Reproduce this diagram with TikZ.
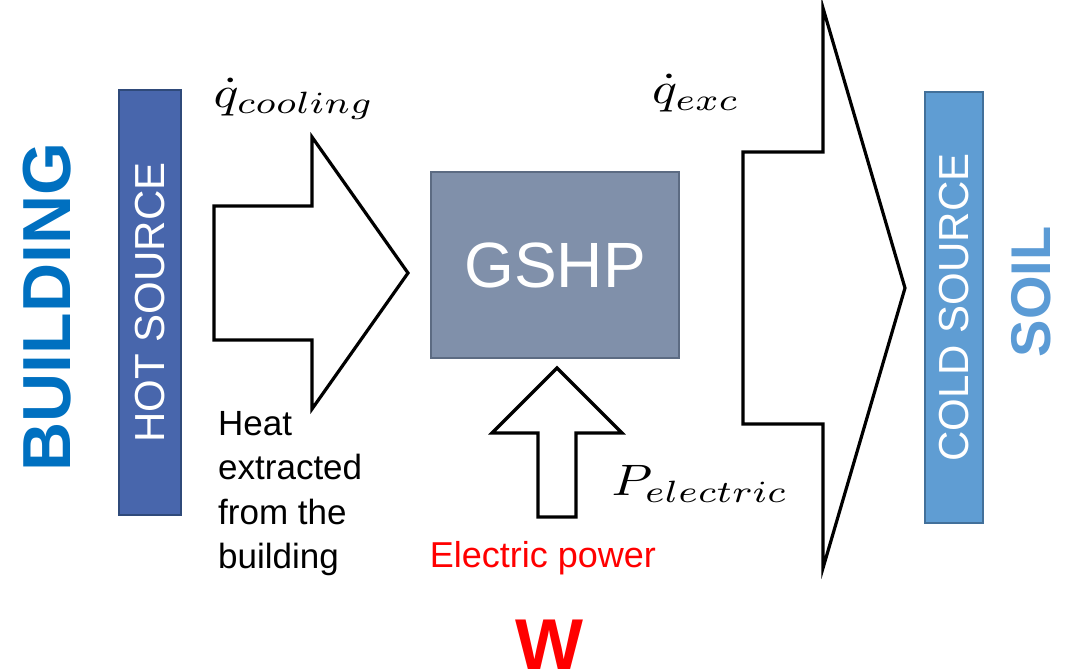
\documentclass[tikz,border=0pt]{standalone}
\usepackage{fontspec}
\setmainfont{Liberation Sans}
\usepackage{graphicx}
\definecolor{hotfill}{HTML}{4866AC}
\definecolor{hotline}{HTML}{2F4A7A}
\definecolor{gshpfill}{HTML}{8090AA}
\definecolor{gshpline}{HTML}{5C6B82}
\definecolor{coldfill}{HTML}{5F9DD3}
\definecolor{coldline}{HTML}{42709A}
\definecolor{bldblue}{HTML}{0070C0}
\definecolor{soilblue}{HTML}{5B9BD5}
\definecolor{pred}{HTML}{FF0000}
\tikzset{
  srcbox/.style={draw, line width=2.5pt, rotate=90, inner sep=0pt, text=white,
    font=\fontsize{42}{42}\selectfont},
  blockarrow/.style={draw=black, line width=3.2pt, fill=white, line join=miter},
  mathlabel/.style={inner sep=0pt},
  biglabel/.style={font=\bfseries\fontsize{68}{68}\selectfont, rotate=90, inner sep=0pt}
}
\newcommand{\mlab}[1]{\scalebox{5.2}[4.4]{$#1$}}
\begin{document}
\begin{tikzpicture}[x=1pt,y=-1pt]
\useasboundingbox (0,0) rectangle (1071,672);
% side rectangles
\node[srcbox, fill=hotfill, draw=hotline, minimum width=425pt, minimum height=62pt] (hot) at (150,302.5) {HOT SOURCE};
\node[srcbox, fill=coldfill, draw=coldline, minimum width=431pt, minimum height=58pt] (cold) at (954,307.5) {COLD SOURCE};
% big labels
\node[biglabel, text=bldblue] (building) at (47,307) {BUILDING};
\node[biglabel, text=soilblue, font=\bfseries\fontsize{56}{56}\selectfont] (soil) at (1031,292) {SOIL};
% GSHP box
\node[draw=gshpline, fill=gshpfill, line width=2.5pt, minimum width=248pt, minimum height=186pt,
  text=white, font=\fontsize{64}{64}\selectfont] (gshp) at (555,265) {GSHP};
% cooling arrow
\draw[blockarrow] (214,206) -- (312,206) -- (312,137) -- (408,273) -- (312,409) -- (312,340) -- (214,340) -- cycle;
% exc arrow
\draw[blockarrow] (743,152) -- (823,152) -- (823,8) -- (905,288) -- (823,568) -- (823,424) -- (743,424) -- cycle;
% electric arrow
\draw[blockarrow] (538,517) -- (538,433) -- (492,433) -- (557,368) -- (622,433) -- (576,433) -- (576,517) -- cycle;
% math labels
\node[mathlabel] (qcool) at (294,99) {\mlab{\dot q_{cooling}}};
\node[mathlabel] (qexc) at (696,93) {\mlab{\dot q_{exc}}};
\node[mathlabel] (pel) at (700,484) {\mlab{P_{electric}}};
% text labels
\node[anchor=north west, align=left, inner sep=0pt, font=\fontsize{35}{44.5}\selectfont] (heat) at (218,411) {Heat\\extracted\\from the\\building};
\node[text=pred, inner sep=0pt, font=\fontsize{36}{36}\selectfont] (epower) at (543,558) {Electric power};
\node[text=pred, inner sep=0pt, anchor=north, font=\bfseries\fontsize{72}{72}\selectfont] (w) at (549,620) {W};
\end{tikzpicture}
\end{document}
